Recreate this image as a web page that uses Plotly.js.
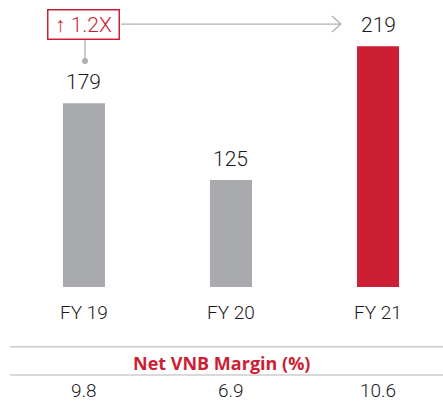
<!DOCTYPE html>
<html>
<head>
<meta charset="utf-8">
<script src="https://cdn.plot.ly/plotly-3.0.1.min.js"></script>
<style>html,body{margin:0;padding:0;background:#fff;}#chart{width:443px;height:401px;}</style>
</head>
<body>
<div id="chart"></div>
<script>
const categories = ['FY 19', 'FY 20', 'FY 21'];
const vnbValues = [179, 125, 219];
const marginValues = ['9.8', '6.9', '10.6'];
const barColors = ['#a9aaae', '#a9aaae', '#cc1f36'];
const growthLabel = '\u2191 1.2X';
const tableTitle = 'Net VNB Margin (%)';

const FONT = 'Roboto, "Liberation Sans", sans-serif';
const TXT = '#1a1a1a';
const RED = '#cc1f36';

const trace = {
  type: 'bar',
  x: categories,
  y: vnbValues,
  width: 0.286,
  marker: { color: barColors },
  hoverinfo: 'skip'
};

const annotations = [];
categories.forEach((c, i) => {
  annotations.push({ x: c, y: vnbValues[i], xref: 'x', yref: 'y', text: String(vnbValues[i]),
    showarrow: false, yanchor: 'middle', yshift: 21, font: { family: FONT, size: 21, weight: 300, color: TXT } });
  annotations.push({ x: c, y: 0, xref: 'x', yref: 'paper', text: c,
    showarrow: false, yanchor: 'middle', yshift: -25, font: { family: FONT, size: 19, weight: 300, color: TXT } });
  annotations.push({ x: c, y: 0, xref: 'x', yref: 'paper', text: marginValues[i],
    showarrow: false, yanchor: 'middle', yshift: -103, font: { family: FONT, size: 19, weight: 300, color: TXT } });
});
annotations.push({ x: 0.5, xref: 'paper', y: 0, yref: 'paper', text: '<b>' + tableTitle + '</b>',
  showarrow: false, yanchor: 'middle', yshift: -76, font: { family: '"Open Sans", sans-serif', size: 18, color: RED } });
annotations.push({ x: categories[0], xref: 'x', y: 0.916, yref: 'paper', text: growthLabel,
  showarrow: false, xanchor: 'center', yanchor: 'middle', width: 68, height: 26,
  bordercolor: RED, borderwidth: 1.5, borderpad: 1, bgcolor: '#ffffff',
  font: { family: FONT, size: 21, weight: 300, color: RED } });

const GRAY = '#b0b0b0';
const shapes = [
  { type: 'line', xref: 'paper', yref: 'paper', x0: 0.0226, x1: 1, y0: -0.208, y1: -0.208, line: { color: '#cccccc', width: 1.5 } },
  { type: 'line', xref: 'paper', yref: 'paper', x0: 0.0226, x1: 1, y0: -0.3066, y1: -0.3066, line: { color: '#cccccc', width: 1.5 } },
  { type: 'line', xref: 'x', yref: 'paper', x0: 0.252, x1: 1.748, y0: 0.916, y1: 0.916, line: { color: GRAY, width: 1.3 } },
  { type: 'path', xref: 'x', yref: 'paper', xsizemode: 'pixel', ysizemode: 'pixel', xanchor: 1.748, yanchor: 0.916,
    path: 'M-9,8 L0,0 L-9,-8', line: { color: GRAY, width: 1.3 } },
  { type: 'line', xref: 'x', yref: 'paper', x0: 0.007, x1: 0.007, y0: 0.8606, y1: 0.7875, line: { color: GRAY, width: 1.3 } },
  { type: 'circle', xref: 'x', yref: 'paper', xsizemode: 'pixel', ysizemode: 'pixel', xanchor: 0.007, yanchor: 0.7875,
    x0: -3, x1: 3, y0: -3, y1: 3, fillcolor: GRAY, line: { width: 0 } }
];

const layout = {
  width: 443, height: 401,
  margin: { l: 0, r: 0, t: 0, b: 114, pad: 0 },
  paper_bgcolor: '#ffffff', plot_bgcolor: '#ffffff',
  showlegend: false,
  xaxis: { type: 'category', range: [-0.571, 2.442], showticklabels: false, showgrid: false, zeroline: false, showline: false, ticks: '' },
  yaxis: { range: [50, 251.4], showticklabels: false, showgrid: false, zeroline: false, showline: false, ticks: '' },
  annotations: annotations,
  shapes: shapes
};

Plotly.newPlot('chart', [trace], layout, { staticPlot: true, displayModeBar: false });
</script>
</body>
</html>
